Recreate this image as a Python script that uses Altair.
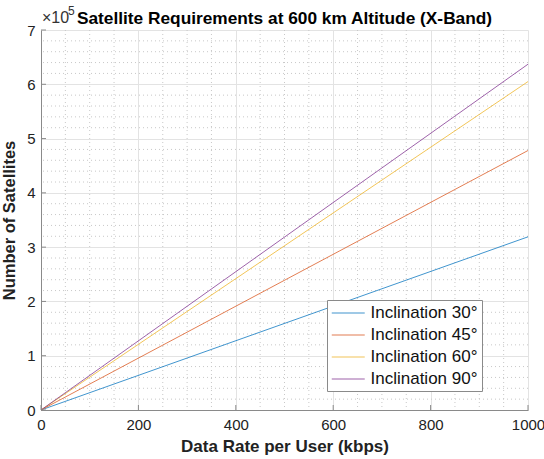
import altair as alt
import pandas as pd

# ---- data ----
rates = [0, 1000]  # kbps
series_names = ["Inclination 30°", "Inclination 45°", "Inclination 60°", "Inclination 90°"]
end_values = [319000, 478000, 605000, 637000]  # number of satellites at 1000 kbps
start_values = [0, 0, 0, 0]
colors = ["#0072BD", "#D95319", "#EDB120", "#7E2F8E"]

x_major = [0, 200, 400, 600, 800, 1000]
y_major = [0, 100000, 200000, 300000, 400000, 500000, 600000, 700000]
x_minor = [v for v in range(50, 1000, 50) if v % 200 != 0]
y_minor = [v * 20000 for v in range(1, 35) if (v * 20000) % 100000 != 0]

rows = []
for name, s, e in zip(series_names, start_values, end_values):
    rows.append({"rate": rates[0], "sats": s, "series": name})
    rows.append({"rate": rates[1], "sats": e, "series": name})
df = pd.DataFrame(rows)

FONT = "Liberation Sans"
W, H = 487, 380

xscale = alt.Scale(domain=[0, 1000], nice=False, zero=False)
yscale = alt.Scale(domain=[0, 700000], nice=False, zero=False)

xaxis = alt.Axis(title="Data Rate per User (kbps)", values=x_major, grid=True,
                 gridColor="#e3e3e3", ticks=False, domainColor="#8a8a8a",
                 format="d",
                 labelFontSize=15, labelColor="#222222", labelPadding=7,
                 titleFontSize=17, titleFontWeight="bold", titleColor="#222222",
                 titlePadding=6, labelFlush=False)
yaxis = alt.Axis(title="Number of Satellites", values=y_major, grid=True,
                 gridColor="#e3e3e3", ticks=False, domainColor="#8a8a8a",
                 labelExpr="format(datum.value / 100000, 'd')",
                 labelFontSize=15, labelColor="#222222", labelPadding=6,
                 titleFontSize=16.5, titleFontWeight="bold", titleColor="#222222",
                 titlePadding=9, labelFlush=False)

xminor = alt.Chart(pd.DataFrame({"v": x_minor})).mark_rule(
    color="#c8c8c8", strokeWidth=1, strokeDash=[1, 3]
).encode(x=alt.X("v:Q", scale=xscale, axis=xaxis, title="Data Rate per User (kbps)"))

yminor = alt.Chart(pd.DataFrame({"v": y_minor})).mark_rule(
    color="#c8c8c8", strokeWidth=1, strokeDash=[1, 3]
).encode(y=alt.Y("v:Q", scale=yscale, axis=yaxis, title="Number of Satellites"))

lines = alt.Chart(df).mark_line(strokeWidth=1, opacity=0.75).encode(
    x=alt.X("rate:Q", scale=xscale, axis=xaxis, title="Data Rate per User (kbps)"),
    y=alt.Y("sats:Q", scale=yscale, axis=yaxis, title="Number of Satellites"),
    color=alt.Color("series:N", scale=alt.Scale(domain=series_names, range=colors),
                    legend=alt.Legend(title=None, orient="none", legendX=286, legendY=270,
                                      symbolType="M-1,0H3", symbolSize=272,
                                      symbolStrokeWidth=1.2, labelFontSize=17,
                                      labelOffset=21.5, rowPadding=5,
                                      strokeColor="#8a8a8a", fillColor="white",
                                      padding=4, labelColor="#111111")),
)

xticks = alt.Chart(pd.DataFrame({"v": x_major})).mark_rule(color="#8a8a8a").encode(
    x=alt.X("v:Q", scale=xscale, axis=xaxis, title="Data Rate per User (kbps)"),
    y=alt.value(H), y2=alt.value(H - 5)
)
yticks = alt.Chart(pd.DataFrame({"v": y_major})).mark_rule(color="#8a8a8a").encode(
    y=alt.Y("v:Q", scale=yscale, axis=yaxis, title="Number of Satellites"),
    x=alt.value(0), x2=alt.value(5)
)

exp_base = alt.Chart(pd.DataFrame({"t": ["×10"]})).mark_text(
    font=FONT, fontSize=16, align="left", baseline="middle", color="#333333"
).encode(text="t:N", x=alt.value(1), y=alt.value(-12))
exp_pow = alt.Chart(pd.DataFrame({"t": ["5"]})).mark_text(
    font=FONT, fontSize=12, align="left", baseline="middle", color="#333333"
).encode(text="t:N", x=alt.value(27), y=alt.value(-19))

chart = alt.layer(xminor, yminor, lines, xticks, yticks, exp_base, exp_pow).properties(
    width=W, height=H,
    title=alt.TitleParams("Satellite Requirements at 600 km Altitude (X-Band)",
                          fontSize=17.3, fontWeight="bold", anchor="middle", offset=-22,
                          color="#000000", font=FONT),
    autosize=alt.AutoSizeParams(type="none"),
    padding={"left": 41, "top": 30, "right": 16, "bottom": 49},
).configure(font=FONT, background="white").configure_view(stroke=None)

chart.save("out.html", embed_options={"renderer": "svg", "actions": False})
